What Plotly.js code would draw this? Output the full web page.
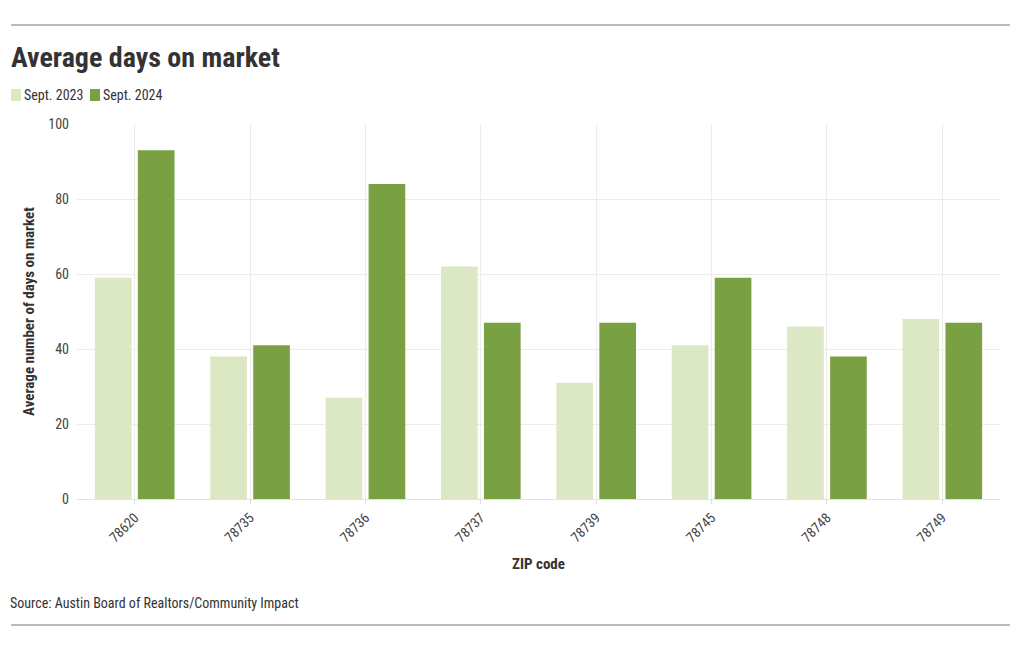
<!DOCTYPE html>
<html><head><meta charset="utf-8">
<script src="https://cdn.plot.ly/plotly-3.0.1.min.js"></script>
<style>html,body{margin:0;padding:0;background:#fff}#chart{width:1020px;height:650px}</style>
</head><body><div id="chart"></div>
<script>
const zipCodes = ["78620","78735","78736","78737","78739","78745","78748","78749"];
const sept2023 = [59,38,27,62,31,41,46,48];
const sept2024 = [93,41,84,47,47,59,38,47];
const seriesNames = ["Sept. 2023","Sept. 2024"];
const seriesColors = ['#dce7c3','#79a042'];
const yTicks = [0,20,40,60,80,100];

const FONT = "Roboto Condensed, Liberation Sans Narrow, Roboto, sans-serif";
const L=77, R=20, T=124, B=151, W=1020, H=650;
const pw=W-L-R, ph=H-T-B;
const px = x => (x-L)/pw;
const py = y => (H-B-y)/ph;

const traces = [
  {type:'bar', name:seriesNames[0], x:zipCodes, y:sept2023, marker:{color:seriesColors[0]}, hoverinfo:'x+y'},
  {type:'bar', name:seriesNames[1], x:zipCodes, y:sept2024, marker:{color:seriesColors[1]}, hoverinfo:'x+y'}
];

// custom compact legend (positions only)
const legendX = [11, 90];
const legendShapes = seriesNames.map((n,i)=>({type:'rect', xref:'paper', yref:'paper',
  x0:px(legendX[i]), x1:px(legendX[i]+10), y0:py(89), y1:py(101), fillcolor:seriesColors[i], line:{width:0}}));
const legendAnn = seriesNames.map((n,i)=>({text:n, xref:'paper', yref:'paper', x:px(legendX[i]+11), y:py(95),
  xanchor:'left', yanchor:'middle', showarrow:false, font:{size:14,color:'#333'}}));

const layout = {
  width:W, height:H, margin:{l:L,r:R,t:T,b:B},
  paper_bgcolor:'#fff', plot_bgcolor:'#fff',
  font:{family:FONT, size:14, color:'#333'},
  barmode:'group', bargap:0.255, bargroupgap:0.147,
  title:{text:'<b>Average days on market</b>', font:{family:FONT,size:28,color:'#333'}, x:11/W, xref:'container', xanchor:'left', y:1-57/H, yref:'container', yanchor:'middle'},
  showlegend:false,
  xaxis:{type:'category', tickangle:-45, showgrid:true, gridcolor:'#ececec', ticks:'outside', ticklen:4, tickcolor:'#e0e0e0', showline:false, zeroline:false,
    tickfont:{size:14,color:'#444'}, title:{text:'<b>ZIP code</b>', font:{size:15,color:'#333'}, standoff:14}},
  yaxis:{range:[0,100], tickvals:yTicks, showgrid:true, gridcolor:'#ececec', zeroline:true, zerolinecolor:'#e2e2e2', ticks:'', ticklabelstandoff:7, tickfont:{size:14,color:'#444'},
    title:{text:'<b>Average number of days on market</b>', font:{size:15,color:'#333'}, standoff:10}},
  shapes:[
    {type:'line', xref:'paper', yref:'paper', x0:px(11), x1:px(1010), y0:py(25), y1:py(25), line:{color:'#777',width:1}},
    {type:'line', xref:'paper', yref:'paper', x0:px(11), x1:px(1010), y0:py(625), y1:py(625), line:{color:'#777',width:1}},
    ...legendShapes
  ],
  annotations:[
    {text:'Source: Austin Board of Realtors/Community Impact', xref:'paper', yref:'paper', x:px(8), y:py(603), xanchor:'left', yanchor:'middle', showarrow:false, font:{size:14,color:'#333'}},
    ...legendAnn
  ]
};
Plotly.newPlot('chart', traces, layout, {displayModeBar:false, responsive:false});
</script></body></html>
